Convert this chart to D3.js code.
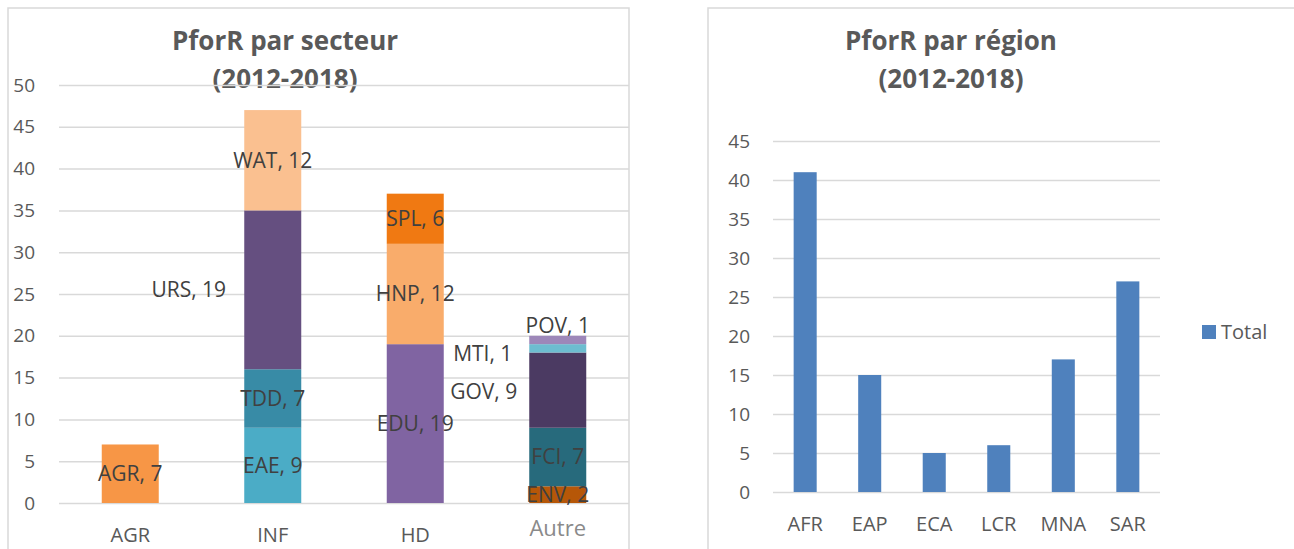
<!DOCTYPE html>
<html>
<head>
<meta charset="utf-8">
<script src="https://cdn.jsdelivr.net/npm/d3@7"></script>
<style>
  body { margin: 0; background: #fff; }
  svg { display: block; font-family: "Open Sans", sans-serif; }
</style>
</head>
<body>
<div id="chart"></div>
<script>
// data - secteurs (stacked)
var secteurs = ["AGR", "INF", "HD", "Autre"];
var sousSecteurs = [["AGR"], ["EAE", "TDD", "URS", "WAT"], ["EDU", "HNP", "SPL"], ["ENV", "FCI", "GOV", "MTI", "POV"]];
var valeurs = [[7], [9, 7, 19, 12], [19, 12, 6], [2, 7, 9, 1, 1]];
var ticksSecteur = [0, 5, 10, 15, 20, 25, 30, 35, 40, 45, 50];

// data - regions
var regions = ["AFR", "EAP", "ECA", "LCR", "MNA", "SAR"];
var totaux = [41, 15, 5, 6, 17, 27];
var ticksRegion = [0, 5, 10, 15, 20, 25, 30, 35, 40, 45];

var couleurs = {
    AGR: "#F79646", EAE: "#4BACC6", TDD: "#388BA6", URS: "#654F80", WAT: "#FAC090",
    EDU: "#8064A2", HNP: "#F9AC6B", SPL: "#F07912",
    ENV: "#B65708", FCI: "#276A7C", GOV: "#4B3A62", MTI: "#6DBDD0", POV: "#9D87B9"
};

// labels moved by hand in the original
var decalage = { URS: [-84, 0], GOV: [-74, 2], MTI: [-75, 5], POV: [0, -14] };

var svg = d3.select("#chart")
    .append("svg")
    .attr("width", 1294)
    .attr("height", 549);

// chart frames
svg.append("rect")
    .attr("x", 8).attr("y", 8).attr("width", 621).attr("height", 560)
    .attr("fill", "none").attr("stroke", "#d9d9d9").attr("stroke-width", 1.5);
svg.append("rect")
    .attr("x", 708).attr("y", 8).attr("width", 620).attr("height", 560)
    .attr("fill", "none").attr("stroke", "#d9d9d9").attr("stroke-width", 1.5);

function titre(cx, ligne1) {
    var t = svg.append("text")
        .attr("text-anchor", "middle")
        .attr("font-size", 26)
        .attr("font-weight", "bold")
        .attr("fill", "#595959");
    t.append("tspan").attr("x", cx).attr("y", 50).text(ligne1);
    t.append("tspan").attr("x", cx).attr("y", 88).text("(2012-2018)");
}

function grille(g, y, ticks, largeur, pad) {
    g.append("g")
        .call(d3.axisLeft(y).tickValues(ticks).tickSize(-largeur).tickPadding(pad))
        .call(a => a.select(".domain").remove())
        .call(a => a.selectAll("line").attr("stroke", "#d9d9d9").attr("stroke-width", 1.5))
        .call(a => a.selectAll("text")
            .attr("font-size", 19)
            .attr("font-family", "Open Sans")
            .attr("fill", "#595959"));
}

// ---------- left chart ----------
titre(285, "PforR par secteur");

var left = { x0: 59, x1: 629, y0: 503, y1: 85 };
var g1 = svg.append("g");

var x1 = d3.scaleBand().domain(secteurs).range([left.x0, left.x1])
    .paddingInner(0.6).paddingOuter(0.3);
var y1 = d3.scaleLinear().domain([0, 50]).range([left.y0, left.y1]);

grille(g1.append("g").attr("transform", `translate(${left.x0},0)`), y1, ticksSecteur, left.x1 - left.x0, 24);

secteurs.forEach(function(s, i) {
    var cum = [0].concat(Array.from(d3.cumsum(valeurs[i])));
    var segs = sousSecteurs[i].map(function(nom, j) {
        return { cat: s, nom: nom, v: valeurs[i][j], bas: cum[j], haut: cum[j + 1] };
    });

    g1.selectAll(null)
        .data(segs)
        .enter()
        .append("rect")
        .attr("x", d => x1(d.cat))
        .attr("y", d => y1(d.haut))
        .attr("width", x1.bandwidth())
        .attr("height", d => y1(d.bas) - y1(d.haut))
        .attr("fill", d => couleurs[d.nom]);

    g1.selectAll(null)
        .data(segs)
        .enter()
        .append("text")
        .attr("x", d => x1(d.cat) + x1.bandwidth() / 2 + (decalage[d.nom] ? decalage[d.nom][0] : 0))
        .attr("y", d => y1((d.bas + d.haut) / 2) + (decalage[d.nom] ? decalage[d.nom][1] : 0))
        .attr("dy", "0.35em")
        .attr("text-anchor", "middle")
        .attr("font-size", 21)
        .attr("fill", "#404040")
        .text(d => d.nom + ", " + d.v);
});

g1.append("g")
    .attr("transform", `translate(0,${left.y0})`)
    .call(d3.axisBottom(x1).tickSize(0))
    .call(a => a.select(".domain").remove())
    .call(a => a.selectAll("text")
        .attr("y", 32).attr("dy", "0.35em")
        .attr("font-size", 20)
        .attr("font-family", "Open Sans")
        .attr("fill", "#595959"))
    .call(a => a.selectAll("text").filter(d => d === "Autre")
        .attr("y", 25)
        .attr("font-size", 22)
        .attr("fill", "#8a8a8a"));

// ---------- right chart ----------
titre(951, "PforR par région");

var right = { x0: 773, x1: 1160, y0: 492, y1: 141 };
var g2 = svg.append("g");

var x2 = d3.scaleBand().domain(regions).range([right.x0, right.x1])
    .paddingInner(0.643).paddingOuter(0.32);
var y2 = d3.scaleLinear().domain([0, 45]).range([right.y0, right.y1]);

grille(g2.append("g").attr("transform", `translate(${right.x0},0)`), y2, ticksRegion, right.x1 - right.x0, 23);

g2.selectAll(".bar")
    .data(totaux)
    .enter()
    .append("rect")
    .attr("class", "bar")
    .attr("x", (d, i) => x2(regions[i]))
    .attr("y", d => y2(d))
    .attr("width", x2.bandwidth())
    .attr("height", d => right.y0 - y2(d))
    .attr("fill", "#4F81BD");

g2.append("g")
    .attr("transform", `translate(0,${right.y0})`)
    .call(d3.axisBottom(x2).tickSize(0))
    .call(a => a.select(".domain").remove())
    .call(a => a.selectAll("text")
        .attr("y", 32).attr("dy", "0.35em")
        .attr("font-size", 20)
        .attr("font-family", "Open Sans")
        .attr("fill", "#595959"));

// legend
svg.append("rect")
    .attr("x", 1202).attr("y", 325).attr("width", 14).attr("height", 14)
    .attr("fill", "#4F81BD");
svg.append("text")
    .attr("x", 1221).attr("y", 332).attr("dy", "0.35em")
    .attr("font-size", 20)
    .attr("fill", "#595959")
    .text("Total");
</script>
</body>
</html>
